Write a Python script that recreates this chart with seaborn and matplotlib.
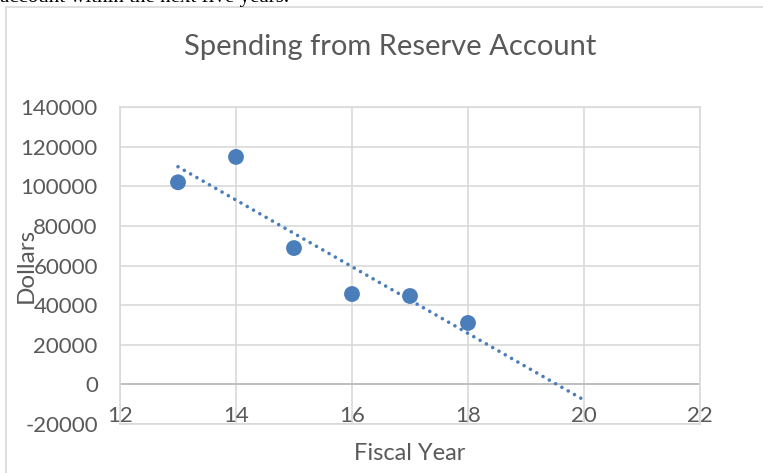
import numpy as np
import pandas as pd
import matplotlib
matplotlib.use('Agg')
import matplotlib.pyplot as plt
from matplotlib.patches import Rectangle
import seaborn as sns

# ── data ─────────────────────────────────────────────────────
fiscal_year = [13, 14, 15, 16, 17, 18]
spending    = [102000, 114800, 68800, 45600, 44600, 31000]
x_ticks = [12, 14, 16, 18, 20, 22]
y_ticks = [-20000, 0, 20000, 40000, 60000, 80000, 100000, 120000, 140000]
trend_end_year = 20   # linear trend forecast forward to FY20

TEXT = '#595959'
GRID = '#d9d9d9'
BLUE = '#4a7ebb'

sns.set_theme(style='white')
plt.rcParams['font.family'] = ['Lato', 'DejaVu Sans']

df = pd.DataFrame({'Fiscal Year': fiscal_year, 'Dollars': spending})

# linear trendline (like Excel's), extended to FY20
slope, intercept = np.polyfit(df['Fiscal Year'], df['Dollars'], 1)
trend = pd.DataFrame({'Fiscal Year': [fiscal_year[0], trend_end_year]})
trend['Dollars'] = slope * trend['Fiscal Year'] + intercept

W, H = 763, 473
fig = plt.figure(figsize=(W / 100, H / 100), dpi=100)
ax = fig.add_axes([120 / W, 1 - 424 / H, 580 / W, 317 / H])

sns.lineplot(data=trend, x='Fiscal Year', y='Dollars', ax=ax, color=BLUE,
             lw=2.6, dashes=False, zorder=3)
ax.lines[-1].set_linestyle((0, (0.01, 2.0)))
ax.lines[-1].set_dash_capstyle('round')
sns.scatterplot(data=df, x='Fiscal Year', y='Dollars', ax=ax, color=BLUE,
                s=130, edgecolor='none', zorder=4)

ax.set_xlim(12, 22)
ax.set_ylim(-20000, 140000)
ax.set_xticks(x_ticks)
ax.set_yticks(y_ticks)
ax.set_xticklabels([str(t) for t in x_ticks])
ax.set_yticklabels([str(t) for t in y_ticks])
ax.grid(True, color=GRID, lw=1.2)
ax.axhline(0, color='#bfbfbf', lw=1.4, zorder=2)
for s in ax.spines.values():
    s.set_color(GRID)
    s.set_linewidth(1.2)
ax.tick_params(axis='both', length=0, labelsize=16, labelcolor=TEXT)
ax.tick_params(axis='y', pad=16)
ax.tick_params(axis='x', pad=-13)
ax.set_xlabel('')
ax.set_ylabel('')

fig.text(390 / W, 1 - 47 / H, 'Spending from Reserve Account', ha='center',
         va='center', fontsize=21, color=TEXT)
fig.text(410 / W, 1 - 453 / H, 'Fiscal Year', ha='center', va='center',
         fontsize=17, color=TEXT)
fig.text(26 / W, 1 - 265 / H, 'Dollars', ha='center', va='center',
         rotation=90, fontsize=17.5, color=TEXT)

# chart frame and the cut-off sentence above it
fig.add_artist(Rectangle((6 / W, -0.1), 1.2, 1.1 - 7 / H, transform=fig.transFigure,
                         fill=False, edgecolor=GRID, lw=1.2))
fig.text(0, 1 - 2 / H, 'account within the next five years.', ha='left',
         va='baseline', fontsize=15, family=['Liberation Serif'], color='black')

fig.savefig('out.png', dpi=100)
